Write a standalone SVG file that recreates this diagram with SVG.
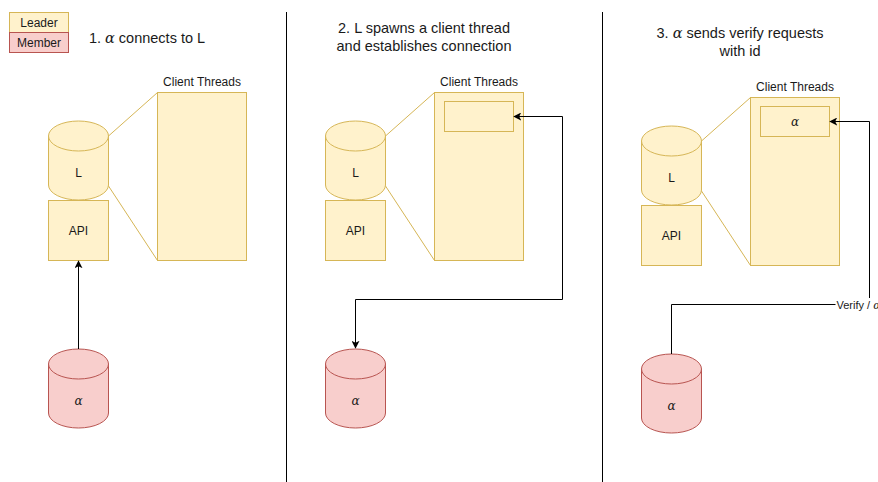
<svg xmlns="http://www.w3.org/2000/svg" width="878" height="482" viewBox="0 0 878 482">
  <style>
    .leader { fill: #fff2cc; stroke: #d6b656; stroke-width: 1; }
    .member { fill: #f8cecc; stroke: #b85450; stroke-width: 1; }
    .link { fill: none; stroke: #d6b656; stroke-width: 1; }
    .edge { fill: none; stroke: #000000; stroke-width: 1; }
    .sep { stroke: #000000; stroke-width: 1; }
    text { font-family: "Liberation Sans", Arial, Helvetica, sans-serif; fill: #1a1a1a; }
    .t12 { font-size: 12px; text-anchor: middle; }
    .t14 { font-size: 14.5px; text-anchor: middle; }
    .math { font-family: "DejaVu Serif", "Liberation Serif", serif; font-style: italic; }
  </style>
  <defs>
    <marker id="arrow" viewBox="0 0 10 10" refX="9" refY="5" markerWidth="8" markerHeight="8" markerUnits="userSpaceOnUse" orient="auto-start-reverse">
      <path d="M0,0 L10,5 L0,10 L2.5,5 Z" fill="#000000"/>
    </marker>
  </defs>
  <rect width="878" height="482" fill="#ffffff"/>

  <!-- legend -->
  <g id="legend">
    <rect class="leader" x="9.5" y="12.5" width="59" height="20"/>
    <text class="t12" x="39" y="26.5">Leader</text>
    <rect class="member" x="9.5" y="32.5" width="59" height="20"/>
    <text class="t12" x="39" y="46.5">Member</text>
  </g>

  <!-- panel separators -->
  <g id="separators">
    <line class="sep" x1="286.5" y1="12" x2="286.5" y2="482"/>
    <line class="sep" x1="602.5" y1="12" x2="602.5" y2="482"/>
  </g>

  <!-- headings -->
  <g id="titles">
    <text class="t14" x="147" y="43">1. <tspan class="math">α</tspan> connects to L</text>
    <text class="t14" x="424" y="33">2. L spawns a client thread</text>
    <text class="t14" x="424" y="51">and establishes connection</text>
    <text class="t14" x="740" y="38">3. <tspan class="math">α</tspan> sends verify requests</text>
    <text class="t14" x="740" y="56">with id</text>
  </g>

  <!-- ===== panel 1 ===== -->
  <g id="p1-links">
    <line class="link" x1="108.5" y1="136" x2="157.5" y2="92.5"/>
    <line class="link" x1="108.5" y1="186" x2="157.5" y2="260.5"/>
  </g>
  <g id="p1-leader">
    <path class="leader" d="M48.5,136 A30,15 0 0 1 108.5,136 L108.5,185 A30,15 0 0 1 48.5,185 Z"/>
    <path class="leader" d="M48.5,136 A30,15 0 0 0 108.5,136" fill="none"/>
    <text class="t12" x="78.5" y="177">L</text>
  </g>
  <g id="p1-api">
    <rect class="leader" x="48.5" y="200.5" width="60" height="60"/>
    <text class="t12" x="78.5" y="234.5">API</text>
  </g>
  <g id="p1-threads">
    <text class="t12" x="202" y="86">Client Threads</text>
    <rect class="leader" x="157.5" y="92.5" width="89" height="168"/>
  </g>
  <g id="p1-member">
    <path class="member" d="M48.5,364 A30,15 0 0 1 108.5,364 L108.5,413 A30,15 0 0 1 48.5,413 Z"/>
    <path class="member" d="M48.5,364 A30,15 0 0 0 108.5,364" fill="none"/>
    <text class="t12 math" x="78.5" y="405">α</text>
  </g>

  <!-- ===== panel 2 ===== -->
  <g id="p2-links">
    <line class="link" x1="385.5" y1="136" x2="434.5" y2="92.5"/>
    <line class="link" x1="385.5" y1="186" x2="434.5" y2="260.5"/>
  </g>
  <g id="p2-leader">
    <path class="leader" d="M325.5,136 A30,15 0 0 1 385.5,136 L385.5,185 A30,15 0 0 1 325.5,185 Z"/>
    <path class="leader" d="M325.5,136 A30,15 0 0 0 385.5,136" fill="none"/>
    <text class="t12" x="355.5" y="177">L</text>
  </g>
  <g id="p2-api">
    <rect class="leader" x="325.5" y="200.5" width="60" height="60"/>
    <text class="t12" x="355.5" y="234.5">API</text>
  </g>
  <g id="p2-threads">
    <text class="t12" x="479" y="86">Client Threads</text>
    <rect class="leader" x="434.5" y="92.5" width="89" height="168"/>
    <rect class="leader" x="444.5" y="101.5" width="69" height="30"/>
  </g>
  <g id="p2-member">
    <path class="member" d="M325.5,364 A30,15 0 0 1 385.5,364 L385.5,413 A30,15 0 0 1 325.5,413 Z"/>
    <path class="member" d="M325.5,364 A30,15 0 0 0 385.5,364" fill="none"/>
    <text class="t12 math" x="355.5" y="405">α</text>
  </g>

  <!-- ===== panel 3 ===== -->
  <g id="p3-links">
    <line class="link" x1="701.5" y1="141" x2="750.5" y2="97.5"/>
    <line class="link" x1="701.5" y1="191" x2="750.5" y2="265.5"/>
  </g>
  <g id="p3-leader">
    <path class="leader" d="M641.5,141 A30,15 0 0 1 701.5,141 L701.5,190 A30,15 0 0 1 641.5,190 Z"/>
    <path class="leader" d="M641.5,141 A30,15 0 0 0 701.5,141" fill="none"/>
    <text class="t12" x="671.5" y="182">L</text>
  </g>
  <g id="p3-api">
    <rect class="leader" x="641.5" y="205.5" width="60" height="60"/>
    <text class="t12" x="671.5" y="239.5">API</text>
  </g>
  <g id="p3-threads">
    <text class="t12" x="795" y="91">Client Threads</text>
    <rect class="leader" x="750.5" y="97.5" width="89" height="168"/>
    <rect class="leader" x="760.5" y="106.5" width="69" height="30"/>
    <text class="t12 math" x="795" y="125.5">α</text>
  </g>
  <g id="p3-member">
    <path class="member" d="M641.5,369 A30,15 0 0 1 701.5,369 L701.5,418 A30,15 0 0 1 641.5,418 Z"/>
    <path class="member" d="M641.5,369 A30,15 0 0 0 701.5,369" fill="none"/>
    <text class="t12 math" x="671.5" y="410">α</text>
  </g>

  <!-- connectors -->
  <g id="connectors">
    <path class="edge" d="M78.5,349 L78.5,261" marker-end="url(#arrow)"/>
    <path class="edge" d="M355.5,348 L355.5,299.5 L562.5,299.5 L562.5,116.5 L514,116.5" marker-start="url(#arrow)" marker-end="url(#arrow)"/>
    <path class="edge" d="M671.5,354 L671.5,304.5 L869.5,304.5 L869.5,121.5 L830,121.5" marker-end="url(#arrow)"/>
    <g id="verify-label">
      <rect x="835.5" y="298" width="43" height="13" fill="#ffffff"/>
      <text x="836.5" y="308.5" font-size="11">Verify / <tspan class="math">α</tspan></text>
    </g>
  </g>
</svg>
